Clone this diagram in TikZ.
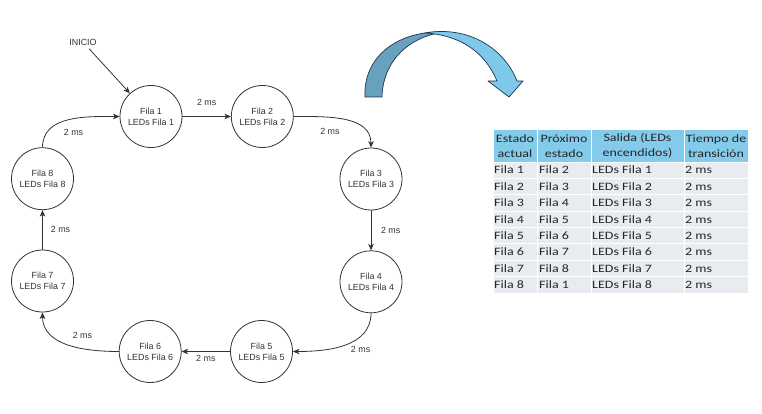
\documentclass[tikz,border=0pt]{standalone}
\usepackage{fontspec}
\setmainfont{Liberation Sans}
\newfontfamily\tablafont[FakeStretch=1.24]{Carlito}
\usepackage{xcolor}
\usepackage{tikz}
\usetikzlibrary{arrows.meta,positioning}
\definecolor{trazo}{RGB}{51,51,51}
\definecolor{azulcab}{RGB}{131,202,235}
\definecolor{grisfila}{RGB}{232,235,239}
\definecolor{azuloscuro}{RGB}{104,161,190}
\definecolor{azulclaro}{RGB}{126,200,234}
\definecolor{bordeazul}{RGB}{30,52,82}

\begin{document}
\begin{tikzpicture}[x=1pt, y=1pt, font=\fontsize{8.9}{11}\selectfont, >={Stealth[length=6.5pt,width=5.5pt,inset=1.8pt]}]
\tikzstyle{est}=[circle, draw=trazo, line width=0.8pt, minimum size=62pt, inner sep=0pt, align=center, text=trazo]
\tikzstyle{tms}=[inner sep=0pt, text=trazo]
\tikzstyle{flecha}=[->, draw=trazo, line width=0.8pt]
\tikzstyle{cab}=[fill=azulcab, draw=white, line width=1pt]
\tikzstyle{fil}=[fill=grisfila, draw=white, line width=1pt]
\tikzstyle{cabtxt}=[inner sep=0pt, align=center, font=\tablafont\fontsize{11.3}{15}\selectfont, text=black!85]
\tikzstyle{celda}=[inner sep=0pt, anchor=base west, font=\tablafont\fontsize{11.3}{15}\selectfont, text=black!85]
\useasboundingbox (0,0) rectangle (762,413);
% maquina de estados
\node[text=trazo] (inicio) at (83,371) {INICIO};
\node[est] (f1) at (151,296.5) {Fila 1\\LEDs Fila 1};
\node[est, right=48.5pt of f1] (f2) {Fila 2\\LEDs Fila 2};
\node[est] (f3) at (371,234) {Fila 3\\LEDs Fila 3};
\node[est, below=40pt of f3] (f4) {Fila 4\\LEDs Fila 4};
\node[est] (f5) at (261.5,61.5) {Fila 5\\LEDs Fila 5};
\node[est, left=48.5pt of f5] (f6) {Fila 6\\LEDs Fila 6};
\node[est] (f7) at (42.5,132) {Fila 7\\LEDs Fila 7};
\node[est, above=39.5pt of f7] (f8) {Fila 8\\LEDs Fila 8};
\draw[flecha] (inicio) -- (f1);
\draw[flecha] (f1) -- node[tms, above=11pt] {2 ms} (f2);
\draw[flecha] (f2.east) to[out=0, in=90] node[tms, pos=0.35, below=10pt] {2 ms} (f3.north);
\draw[flecha] (f3) -- node[tms, right=9.6pt] {2 ms} (f4);
\draw[flecha] (f4.south) to[out=-90, in=0] node[tms, pos=0.3, below=9pt] {2 ms} (f5.east);
\draw[flecha] (f5) -- node[tms, below=3pt] {2 ms} (f6);
\draw[flecha] (f6.west) to[out=180, in=-90] node[tms, pos=0.35, above=10pt] {2 ms} (f7.south);
\draw[flecha] (f7) -- node[tms, right=8pt] {2 ms} (f8);
\draw[flecha] (f8.north) to[out=90, in=180] node[tms, pos=0.55, below=10pt] {2 ms} (f1.west);
% flecha curva
\draw[draw=bordeazul, line width=0.7pt, fill=azuloscuro] (365,316) .. controls (363,358) and (400,383) .. (445,381) .. controls (410,377) and (383,353) .. (382,316) -- cycle;
\draw[draw=bordeazul, line width=0.7pt, fill=azulclaro, line join=round] (425,380) .. controls (470,388) and (505,363) .. (517,332) -- (523,332) -- (509,316) -- (488,332) -- (497,332) .. controls (485,361) and (460,378) .. (425,380) -- cycle;
% tabla
\foreach \xa/\xb/\txt [count=\k] in {493/537/{Estado\\actual}, 537/591/{Próximo\\estado}, 591/684/{Salida (LEDs\\encendidos)}, 684/748/{Tiempo de\\transición}} {
  \draw[cab] (\xa,283) rectangle (\xb,251);
  \node[cabtxt] (h\k) at ({(\xa+\xb)/2},267) {\txt};
}
\foreach \i in {1,...,8} {
  \pgfmathsetmacro\ya{251-(\i-1)*16.375}
  \pgfmathsetmacro\yb{\ya-16.375}
  \pgfmathsetmacro\yc{\ya-8.19-3.7}
  \pgfmathtruncatemacro\sig{mod(\i,8)+1}
  \foreach \xa/\xb in {493/537,537/591,591/684,684/748}
    \draw[fil] (\xa,\ya) rectangle (\xb,\yb);
  \node[celda] (a\i) at (494,\yc) {Fila \i};
  \node[celda] (b\i) at (539,\yc) {Fila \sig};
  \node[celda] (s\i) at (592,\yc) {LEDs Fila \i};
  \node[celda] (t\i) at (685,\yc) {2 ms};
}
\end{tikzpicture}
\end{document}
